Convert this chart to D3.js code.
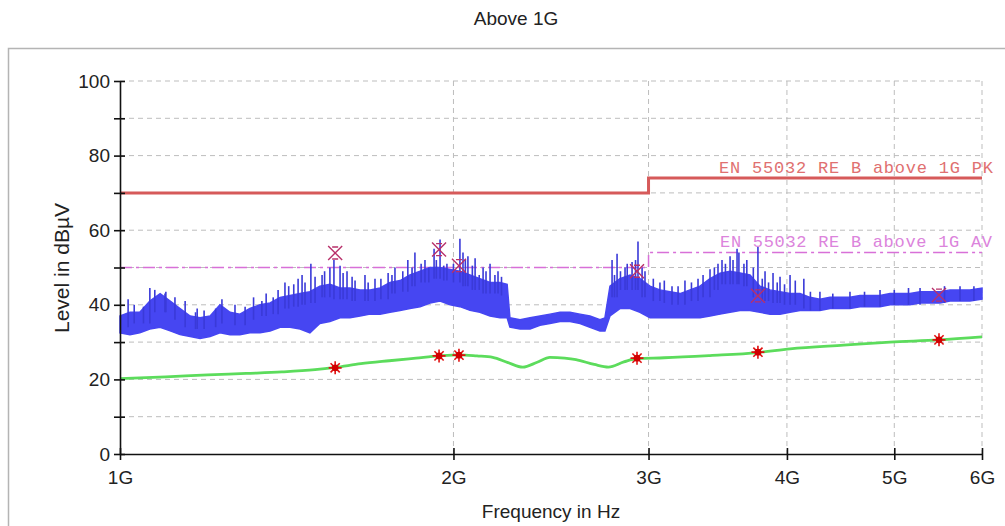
<!DOCTYPE html>
<html>
<head>
<meta charset="utf-8">
<script src="https://cdn.jsdelivr.net/npm/d3@7"></script>
<style>
  body { margin: 0; background: #fff; }
  svg { display: block; }
</style>
</head>
<body>
<svg id="chart" width="1005" height="526"></svg>
<script>
// frequency axis ticks (GHz) and level ticks (dBµV)
const xTicks = [1, 2, 3, 4, 5, 6];
const yTicks = [0, 10, 20, 30, 40, 50, 60, 70, 80, 90, 100];

// limit lines: [GHz, dBµV]
const limitPK = [[1, 70], [3, 70], [3, 74], [6, 74]];
const limitAV = [[1, 50], [3, 50], [3, 54], [6, 54]];

// peak trace (blue) body, read as lower and upper edge of the dense band
const peakFreq = [1.000, 1.021, 1.042, 1.064, 1.087, 1.110, 1.133, 1.157, 1.181, 1.206,
  1.231, 1.257, 1.283, 1.310, 1.338, 1.366, 1.395, 1.424, 1.454, 1.484,
  1.515, 1.547, 1.580, 1.613, 1.647, 1.682, 1.717, 1.753, 1.790, 1.827,
  1.866, 1.905, 1.945, 1.986, 2.027, 2.070, 2.113, 2.158, 2.203, 2.236,
  2.249, 2.297, 2.345, 2.394, 2.444, 2.496, 2.548, 2.602, 2.656, 2.712,
  2.740, 2.769, 2.827, 2.887, 2.947, 3.009, 3.072, 3.137, 3.203, 3.270,
  3.339, 3.409, 3.481, 3.554, 3.628, 3.704, 3.782, 3.862, 3.943, 4.026,
  4.110, 4.197, 4.284, 4.375, 4.467, 4.560, 4.656, 4.754, 4.854, 4.956,
  5.060, 5.166, 5.275, 5.385, 5.499, 5.614, 5.732, 5.852, 6.000];
const peakLow = [32.5, 32, 32.5, 33.5, 34, 33, 32, 31.5, 31, 31.5,
  32.5, 32, 32, 32.5, 32.5, 33, 34, 34, 33.5, 32.5,
  35, 35.5, 36.5, 36.5, 37, 37.5, 37.5, 38, 38.5, 39,
  39.5, 40.5, 41, 40, 39.5, 38.5, 38, 37, 36.5, 36.5,
  34, 33.5, 33.5, 34.5, 35, 35.5, 35.5, 35, 34, 33,
  33, 37, 39, 39, 38, 36.5, 36.5, 36.5, 36.5, 36.5,
  36.5, 37, 37.5, 38, 38.5, 38.5, 38, 37.5, 37.5, 38,
  38.5, 38.5, 38.5, 39, 39, 39, 39.5, 39.5, 39.5, 40,
  40, 40, 40.5, 40.5, 40.5, 41, 41, 41, 41.5];
const peakHigh = [37, 38, 38, 41, 43, 41, 39, 37, 36.5, 37,
  40, 38, 37.5, 39, 40, 40.5, 42, 42.5, 43, 43.5,
  45, 45.5, 44.5, 44.5, 44, 44, 44.5, 46, 46.5, 48,
  49, 50, 50, 49.5, 49, 48, 47, 46, 46, 45.5,
  36.5, 36, 36.5, 37, 37.5, 38, 38, 37.5, 37, 36,
  36.5, 45, 47, 48, 47, 45, 44, 43.5, 43, 44,
  45, 47, 48.5, 49, 48.5, 48, 45, 44, 43.5, 43,
  43, 42, 41.5, 42, 42, 42, 42.5, 42.5, 42.5, 43,
  43, 43, 43.5, 43.5, 43.5, 44, 44, 44, 44.5];

// single spikes that rise above the band
const spikeFreq = [1.017, 1.03, 1.05, 1.064, 1.075, 1.098, 1.10, 1.121, 1.145, 1.17,
  1.174, 1.191, 1.22, 1.236, 1.27, 1.297, 1.32, 1.343, 1.355, 1.375,
  1.389, 1.409, 1.42, 1.435, 1.448, 1.46, 1.469, 1.487, 1.50, 1.522,
  1.53, 1.547, 1.56, 1.580, 1.59, 1.603, 1.62, 1.630, 1.664, 1.675,
  1.699, 1.72, 1.746, 1.76, 1.771, 1.80, 1.819, 1.835, 1.846, 1.87,
  1.885, 1.90, 1.921, 1.93, 1.945, 1.96, 1.973, 2.00, 2.027, 2.04,
  2.05, 2.061, 2.08, 2.092, 2.11, 2.127, 2.14, 2.158, 2.18, 2.194,
  2.21, 2.781, 2.795, 2.810, 2.83, 2.857, 2.87, 2.899, 2.92, 2.935,
  2.96, 2.978, 3.03, 3.072, 3.10, 3.150, 3.19, 3.236, 3.28, 3.325,
  3.36, 3.409, 3.44, 3.466, 3.495, 3.52, 3.554, 3.576, 3.606, 3.62,
  3.658, 3.68, 3.73, 3.766, 3.80, 3.822, 3.85, 3.886, 3.92, 3.943,
  3.98, 4.026, 4.07, 4.143, 4.2, 4.284, 4.4, 4.560, 4.7, 4.854,
  5.0, 5.15, 5.275, 5.55, 5.732, 5.9];
const spikeLevel = [41.5, 40, 39.5, 44.5, 44, 43, 43.5, 42, 41, 38,
  39, 38.5, 39, 41.5, 40, 39.5, 42, 41, 43, 42,
  44, 46, 45, 45.5, 47, 48, 46, 51, 47.5, 48,
  49, 50, 52, 50.5, 48.5, 49, 47.5, 46.5, 48, 46,
  47, 47, 48.5, 48, 50, 49, 52, 50, 54, 51,
  52, 50, 55, 52, 57.5, 50.5, 51, 51, 57.7, 54,
  52, 53, 50.5, 52.5, 48, 50, 49, 51, 48, 49,
  47.5, 52, 48, 53.7, 49, 50, 51, 51.5, 52, 57,
  50, 49, 47, 46, 46.5, 45, 45, 46.5, 46, 47,
  48, 49.5, 50, 51, 52, 51, 53, 52, 55, 54,
  51, 52, 50, 55.5, 47, 49, 46, 48.5, 46, 47.5,
  45.5, 48, 46.5, 47, 43.5, 43.5, 43, 43.5, 43.5, 44,
  44, 44.5, 44.5, 45, 45, 45];

// average trace (green)
const avgFreq = [1.0, 1.1, 1.2, 1.3, 1.4, 1.5, 1.564, 1.65, 1.75, 1.85,
  1.941, 2.023, 2.1, 2.17, 2.24, 2.31, 2.38, 2.444, 2.52, 2.58,
  2.68, 2.76, 2.85, 2.929, 3.1, 3.409, 3.766, 4.026, 4.5, 4.956,
  5.487, 6.0];
const avgLevel = [20.2, 20.7, 21.2, 21.6, 22.0, 22.6, 23.2, 24.2, 25.0, 25.7,
  26.3, 26.6, 26.3, 25.9, 24.5, 23.3, 24.6, 25.9, 25.7, 25.3,
  24.0, 23.3, 24.7, 25.6, 25.8, 26.4, 27.2, 28.2, 29.2, 30.0,
  30.6, 31.4];

// final measurement markers
const markFreq = [1.564, 1.941, 2.023, 2.929, 3.766, 5.487];
const markPK = [53.9, 54.8, 50.5, 49.0, 42.4, 42.6];
const markAV = [23.1, 26.3, 26.5, 25.7, 27.3, 30.6];

const svg = d3.select('#chart');
const font = '"Liberation Sans", Arial, sans-serif';

const x = d3.scaleLog().domain([1, 6]).range([120, 982]);
const y = d3.scaleLinear().domain([0, 100]).range([454, 81]);

// title and outer frame
svg.append('text')
  .attr('x', 516).attr('y', 25)
  .attr('text-anchor', 'middle')
  .attr('font-family', font).attr('font-size', 19)
  .attr('fill', '#222')
  .text('Above 1G');

svg.append('rect')
  .attr('x', 8.5).attr('y', 48.5)
  .attr('width', 1010).attr('height', 500)
  .attr('fill', 'none')
  .attr('stroke', '#b4b4b4').attr('stroke-width', 1.5);

// grid
const grid = svg.append('g').attr('stroke', '#bdbdbd').attr('stroke-dasharray', '5,4');
grid.selectAll('.hg').data(yTicks.filter(d => d > 0)).join('line')
  .attr('x1', x(1)).attr('x2', x(6))
  .attr('y1', d => y(d)).attr('y2', d => y(d));
grid.selectAll('.vg').data(xTicks.filter(d => d > 1)).join('line')
  .attr('x1', d => x(d)).attr('x2', d => x(d))
  .attr('y1', y(100)).attr('y2', y(0));

// limit lines
const lim = d3.line().x(d => x(d[0])).y(d => y(d[1]));
svg.append('path').attr('d', lim(limitAV))
  .attr('fill', 'none').attr('stroke', '#d870d8')
  .attr('stroke-width', 1.5).attr('stroke-dasharray', '12,4,3,4');

// peak trace
const band = d3.range(peakFreq.length).map(i => [peakFreq[i], peakLow[i], peakHigh[i]]);
const blue = '#4646f2';
svg.append('path')
  .attr('d', d3.area().x(d => x(d[0])).y0(d => y(d[1])).y1(d => y(d[2]))(band))
  .attr('fill', blue).attr('stroke', blue).attr('stroke-width', 1.5);

// base of each spike: top of band at that frequency
function bandTop(f) {
  const i = Math.max(1, d3.bisectLeft(peakFreq, f));
  return Math.min(peakHigh[i - 1], peakHigh[i]);
}
svg.append('g').attr('stroke', '#3a3ad8').attr('stroke-width', 1.6)
  .selectAll('line').data(spikeFreq).join('line')
  .attr('x1', d => x(d)).attr('x2', d => x(d))
  .attr('y1', (d, i) => y(spikeLevel[i]))
  .attr('y2', d => y(bandTop(d) - 3));

// average trace
svg.append('path')
  .attr('d', d3.line().x(d => x(d)).y((d, i) => y(avgLevel[i])).curve(d3.curveMonotoneX)(avgFreq))
  .attr('fill', 'none').attr('stroke', '#5cdc5c').attr('stroke-width', 2.8);

svg.append('path').attr('d', lim(limitPK))
  .attr('fill', 'none').attr('stroke', '#d65a5a').attr('stroke-width', 3);

// limit labels
svg.append('text')
  .attr('x', 993).attr('y', 173).attr('text-anchor', 'end')
  .attr('font-family', '"Liberation Mono", "Courier New", monospace')
  .attr('font-size', 17).attr('fill', '#e07070')
  .attr('textLength', 274)
  .text('EN 55032 RE B above 1G PK');
svg.append('text')
  .attr('x', 992).attr('y', 247).attr('text-anchor', 'end')
  .attr('font-family', '"Liberation Mono", "Courier New", monospace')
  .attr('font-size', 17).attr('fill', '#dc84dc')
  .attr('textLength', 272)
  .text('EN 55032 RE B above 1G AV');

// peak markers (x with bars)
const mk = svg.append('g').attr('stroke', '#b8306a').attr('stroke-width', 1.4);
markFreq.forEach((f, i) => {
  const cx = x(f), cy = y(markPK[i]), r = 7;
  mk.append('path')
    .attr('d', `M${cx - r},${cy - r}L${cx + r},${cy + r}M${cx + r},${cy - r}L${cx - r},${cy + r}` +
      `M${cx - 3},${cy - r + 1}L${cx + 3},${cy - r + 1}M${cx - 3},${cy + r - 1}L${cx + 3},${cy + r - 1}`)
    .attr('fill', 'none');
});

// average markers (asterisks)
const am = svg.append('g');
markFreq.forEach((f, i) => {
  const cx = x(f), cy = y(markAV[i]), r = 6.5;
  am.append('path')
    .attr('d', d3.range(4).map(k => {
      const a = k * Math.PI / 4;
      return `M${cx - r * Math.cos(a)},${cy - r * Math.sin(a)}L${cx + r * Math.cos(a)},${cy + r * Math.sin(a)}`;
    }).join(''))
    .attr('stroke', '#e01010').attr('stroke-width', 1.6);
  am.append('circle').attr('cx', cx).attr('cy', cy).attr('r', 3.4).attr('fill', '#d00000');
});

// axes
const axisY = svg.append('g').attr('transform', `translate(${x(1)},0)`)
  .call(d3.axisLeft(y).tickValues(yTicks).tickSize(6).tickSizeOuter(0)
    .tickFormat(d => d % 20 === 0 ? d : ''));
const axisX = svg.append('g').attr('transform', `translate(0,${y(0)})`)
  .call(d3.axisBottom(x).tickValues(xTicks).tickSize(6).tickSizeOuter(0)
    .tickFormat(d => d + 'G'));

[axisY, axisX].forEach(a => {
  a.select('.domain').attr('stroke', '#111').attr('stroke-width', 1.6);
  a.selectAll('line').attr('stroke', '#111').attr('stroke-width', 1.6);
  a.selectAll('text').attr('font-family', font).attr('font-size', 19).attr('fill', '#222');
});
axisY.selectAll('.tick line').attr('x1', 5);
axisY.selectAll('.tick text').attr('x', -10);
axisX.selectAll('.tick line').attr('y1', -6);
axisX.selectAll('.tick text').attr('y', 17);

// axis titles
svg.append('text')
  .attr('x', 551).attr('y', 518).attr('text-anchor', 'middle')
  .attr('font-family', font).attr('font-size', 19).attr('fill', '#222')
  .text('Frequency in Hz');
svg.append('text')
  .attr('transform', 'translate(69,268) rotate(-90)').attr('text-anchor', 'middle')
  .attr('font-family', font).attr('font-size', 21).attr('fill', '#222')
  .text('Level in dBµV');
</script>
</body>
</html>
